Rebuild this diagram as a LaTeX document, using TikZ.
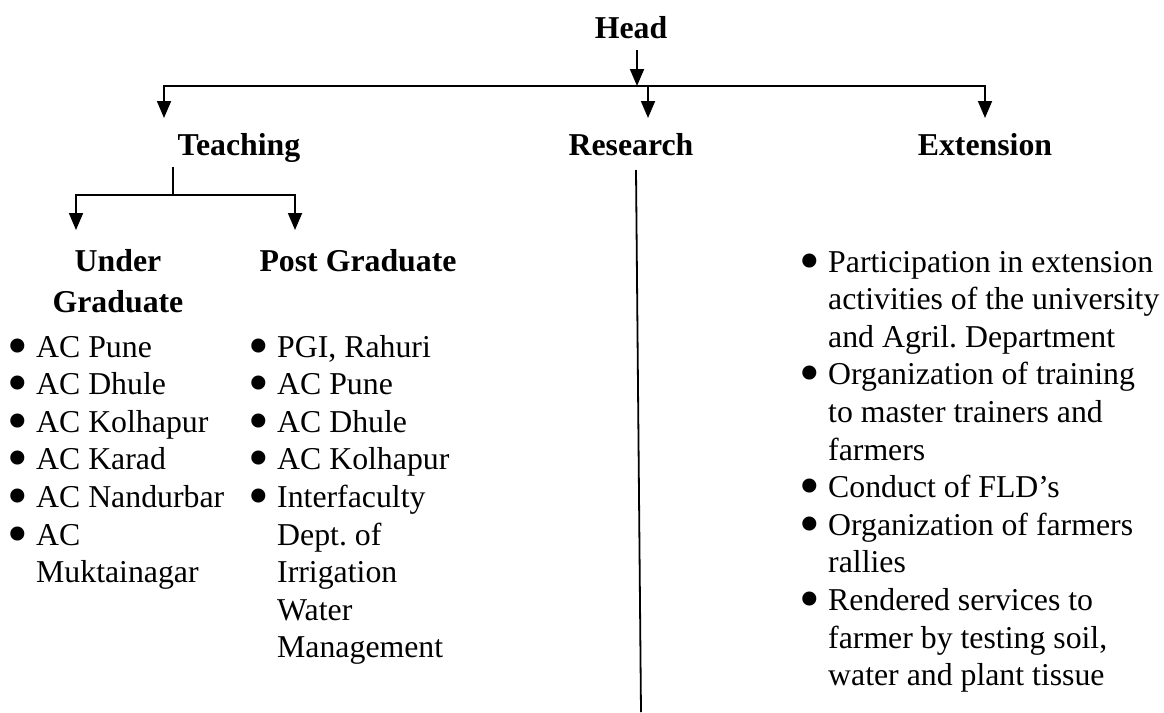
\documentclass[tikz,border=0pt]{standalone}
\usepackage{fontspec}
\setmainfont{Liberation Serif}
\usetikzlibrary{arrows.meta}
\frenchspacing
\newcommand\itmark{\makebox[29pt][l]{\smash{\raisebox{-8pt}{\scalebox{1.85}{\textbullet}}}}}
\begin{document}
\begin{tikzpicture}[x=1pt,y=-1pt,
  hdr/.style={font=\fontsize{31.8}{37.6}\selectfont\bfseries\frenchspacing, inner sep=0pt, anchor=base},
  lst/.style={font=\fontsize{31.8}{37.6}\selectfont\frenchspacing, inner sep=0pt, anchor=base west},
  conn/.style={line width=1.8pt},
  arr/.style={conn, -{Triangle[width=14pt,length=17pt]}}]
\useasboundingbox (0,0) rectangle (1164,712);

% headers
\node[hdr] (head) at (631,38) {Head};
\node[hdr] (teach) at (239,155) {Teaching};
\node[hdr] (res) at (631,155) {Research};
\node[hdr] (ext) at (985,155) {Extension};
\node[hdr] (ug) at (118,271) {\begin{tabular}[t]{@{}c@{}}Under\\[4pt]Graduate\end{tabular}};
\node[hdr] (pg) at (358,271) {Post Graduate};

% lists
\node[lst] (uglist) at (7,357) {\begin{tabular}[t]{@{}l@{}l@{}}
\itmark & AC Pune\\
\itmark & AC Dhule\\
\itmark & AC Kolhapur\\
\itmark & AC Karad\\
\itmark & AC Nandurbar\\
\itmark & AC\\
 & Muktainagar
\end{tabular}};

\node[lst] (pglist) at (248,357) {\begin{tabular}[t]{@{}l@{}l@{}}
\itmark & PGI, Rahuri\\
\itmark & AC Pune\\
\itmark & AC Dhule\\
\itmark & AC Kolhapur\\
\itmark & Interfaculty\\
 & Dept. of\\
 & Irrigation\\
 & Water\\
 & Management
\end{tabular}};

\node[lst] (extlist) at (799,272) {\begin{tabular}[t]{@{}l@{}l@{}}
\itmark & Participation in extension\\
 & activities of the university\\
 & and Agril. Department\\
\itmark & Organization of training\\
 & to master trainers and\\
 & farmers\\
\itmark & Conduct of FLD’s\\
\itmark & Organization of farmers\\
 & rallies\\
\itmark & Rendered services to\\
 & farmer by testing soil,\\
 & water and plant tissue
\end{tabular}};

% connector points
\coordinate (hs) at (637,50);
\coordinate (bj) at (637,86);
\coordinate (tT) at (164,118);
\coordinate (rs) at (648,86);
\coordinate (tR) at (648,118);
\coordinate (tE) at (985,118);
\coordinate (ts) at (173,167);
\coordinate (tj) at (173,195);
\coordinate (tU) at (76,230);
\coordinate (tP) at (295,230);
\coordinate (rl1) at (636,170);
\coordinate (rl2) at (641,712);

% connectors
\draw[arr] (hs) -- (bj);
\draw[arr] (bj) -| (tT);
\draw[arr] (bj) -| (tE);
\draw[arr] (rs) -- (tR);
\draw[conn] (ts) -- (tj);
\draw[arr] (tj) -| (tU);
\draw[arr] (tj) -| (tP);
\draw[conn] (rl1) -- (rl2);
\end{tikzpicture}
\end{document}
